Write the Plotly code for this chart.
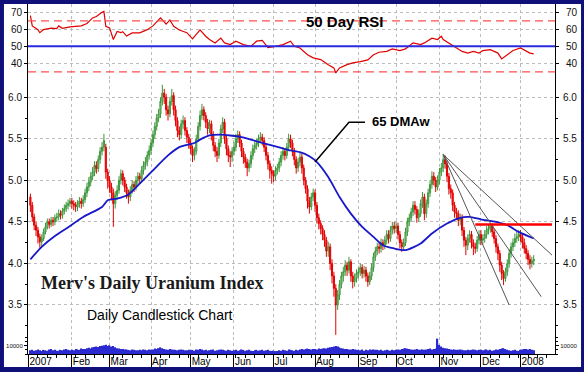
import plotly.graph_objects as go
import pandas as pd

# ------------------------------------------------------------------ data
open_ = [
    4.80, 4.70, 4.56, 4.46, 4.40, 4.32, 4.26, 4.30, 4.38, 4.44, 4.50, 4.47, 4.52, 4.50, 4.55, 4.56, 4.60, 4.58, 4.63, 4.66, 4.70, 4.72,
    4.75, 4.72, 4.70, 4.68, 4.72, 4.75, 4.72, 4.77, 4.85, 4.92, 4.98, 5.05, 5.10, 5.18, 5.14, 5.25, 5.35, 5.40, 5.40, 5.10,
    5.00, 4.92, 4.85, 4.72, 4.82, 4.88, 5.00, 5.08, 5.00, 4.92, 4.85, 4.80, 4.88, 4.95, 4.92, 5.00, 5.05, 5.02, 5.12, 5.18, 5.22, 5.30,
    5.36, 5.45, 5.55, 5.65, 5.75, 5.80, 5.95, 6.05, 6.00, 5.85, 5.80, 5.95, 6.02, 5.85, 5.72, 5.60, 5.55, 5.68, 5.72, 5.60, 5.52,
    5.45, 5.38, 5.30, 5.35, 5.50, 5.65, 5.78, 5.85, 5.78, 5.70, 5.62, 5.68, 5.55, 5.42, 5.35, 5.30, 5.45, 5.62, 5.70, 5.50, 5.38, 5.30, 5.28,
    5.35, 5.40, 5.50, 5.55, 5.45, 5.35, 5.28, 5.22, 5.15, 5.20, 5.30, 5.38, 5.42, 5.45, 5.50, 5.52, 5.48, 5.40, 5.30, 5.20, 5.12,
    5.08, 5.05, 5.12, 5.15, 5.22, 5.30, 5.35, 5.30, 5.40, 5.50, 5.45, 5.35, 5.25, 5.15, 5.22, 5.28, 5.15, 5.00, 4.90, 4.75, 4.68, 4.80,
    4.85, 4.70, 4.55, 4.48, 4.42, 4.35, 4.28, 4.15, 4.20, 4.00, 3.85, 3.70, 3.50, 3.62, 3.75, 3.85, 3.90, 3.98, 3.92, 4.02, 3.85, 3.78, 3.82,
    3.88, 3.90, 3.95, 3.88, 3.92, 3.85, 3.78, 3.85, 3.95, 4.08, 4.15, 4.20, 4.18, 4.25, 4.22, 4.28, 4.35, 4.30, 4.40, 4.45,
    4.42, 4.45, 4.35, 4.25, 4.20, 4.25, 4.38, 4.50, 4.55, 4.62, 4.70, 4.65, 4.55, 4.60, 4.72, 4.80, 4.60, 4.72, 4.85, 4.95, 5.05, 5.00, 4.92,
    5.00, 5.10, 5.15, 5.25, 5.20, 5.05, 4.90, 4.85, 4.70, 4.62, 4.60, 4.52, 4.55, 4.40, 4.28, 4.22, 4.30, 4.35, 4.25, 4.20, 4.18, 4.28,
    4.35, 4.28, 4.30, 4.35, 4.40, 4.42, 4.45, 4.38, 4.30, 4.20, 4.12, 3.98, 3.88, 3.82, 3.90, 4.00, 4.12, 4.20, 4.25, 4.30, 4.32,
    4.35, 4.32, 4.25, 4.18, 4.12, 4.05, 4.00, 4.03,
]
high = [
    4.84, 4.74, 4.60, 4.50, 4.44, 4.36, 4.35, 4.42, 4.49, 4.54, 4.54, 4.56, 4.56, 4.59, 4.61, 4.65, 4.64, 4.67, 4.71, 4.74, 4.77, 4.79,
    4.79, 4.76, 4.74, 4.76, 4.80, 4.79, 4.82, 4.90, 4.97, 5.04, 5.10, 5.16, 5.23, 5.23, 5.30, 5.40, 5.46, 5.56, 5.44, 5.14,
    5.05, 4.97, 4.90, 4.87, 4.94, 5.05, 5.13, 5.12, 5.04, 4.96, 4.89, 4.93, 5.00, 4.99, 5.05, 5.10, 5.09, 5.17, 5.23, 5.28, 5.35, 5.42,
    5.50, 5.60, 5.70, 5.80, 5.86, 6.00, 6.15, 6.10, 6.04, 5.90, 6.00, 6.10, 6.06, 5.90, 5.76, 5.65, 5.73, 5.78, 5.76, 5.64, 5.56,
    5.50, 5.42, 5.40, 5.55, 5.70, 5.84, 5.92, 5.89, 5.82, 5.74, 5.73, 5.72, 5.59, 5.46, 5.40, 5.50, 5.67, 5.76, 5.74, 5.54, 5.42, 5.35, 5.40,
    5.46, 5.56, 5.60, 5.59, 5.49, 5.39, 5.32, 5.26, 5.25, 5.35, 5.43, 5.47, 5.50, 5.55, 5.58, 5.56, 5.52, 5.44, 5.34, 5.24, 5.17,
    5.12, 5.17, 5.20, 5.27, 5.35, 5.40, 5.39, 5.45, 5.56, 5.55, 5.49, 5.39, 5.29, 5.27, 5.33, 5.32, 5.19, 5.04, 4.94, 4.80, 4.85, 4.90,
    4.89, 4.74, 4.60, 4.52, 4.46, 4.40, 4.32, 4.26, 4.24, 4.05, 3.90, 3.75, 3.68, 3.80, 3.90, 3.96, 4.04, 4.02, 4.08, 4.05, 3.90, 3.88, 3.93,
    3.95, 4.00, 3.99, 3.97, 3.96, 3.89, 3.90, 4.00, 4.13, 4.20, 4.25, 4.25, 4.30, 4.29, 4.33, 4.40, 4.40, 4.45, 4.50, 4.50,
    4.50, 4.49, 4.39, 4.29, 4.30, 4.43, 4.55, 4.60, 4.67, 4.75, 4.75, 4.69, 4.65, 4.77, 4.86, 4.84, 4.77, 4.90, 5.00, 5.11, 5.10, 5.04, 5.06,
    5.15, 5.21, 5.32, 5.30, 5.24, 5.09, 4.95, 4.89, 4.74, 4.67, 4.64, 4.60, 4.59, 4.44, 4.32, 4.35, 4.40, 4.39, 4.29, 4.25, 4.33, 4.40,
    4.40, 4.35, 4.40, 4.45, 4.47, 4.48, 4.48, 4.42, 4.34, 4.24, 4.16, 4.02, 3.92, 3.95, 4.05, 4.17, 4.25, 4.30, 4.36, 4.38, 4.40,
    4.40, 4.36, 4.30, 4.22, 4.16, 4.10, 4.08, 4.10,
]
low = [
    4.62, 4.50, 4.40, 4.33, 4.24, 4.19, 4.21, 4.27, 4.35, 4.41, 4.42, 4.44, 4.45, 4.46, 4.50, 4.52, 4.53, 4.54, 4.59, 4.62, 4.65, 4.68,
    4.66, 4.64, 4.62, 4.63, 4.67, 4.66, 4.68, 4.73, 4.80, 4.87, 4.93, 5.00, 5.05, 5.08, 5.10, 5.20, 5.30, 5.35, 5.02, 4.90,
    4.85, 4.76, 4.44, 4.66, 4.77, 4.84, 4.95, 4.94, 4.86, 4.78, 4.72, 4.75, 4.84, 4.86, 4.88, 4.95, 4.96, 4.98, 5.07, 5.13, 5.17, 5.25,
    5.31, 5.40, 5.50, 5.60, 5.70, 5.75, 5.90, 5.92, 5.78, 5.72, 5.76, 5.90, 5.78, 5.65, 5.52, 5.48, 5.50, 5.62, 5.54, 5.45, 5.38,
    5.32, 5.22, 5.24, 5.31, 5.46, 5.60, 5.73, 5.72, 5.63, 5.55, 5.57, 5.48, 5.35, 5.28, 5.22, 5.26, 5.40, 5.57, 5.44, 5.30, 5.22, 5.16, 5.22,
    5.30, 5.35, 5.45, 5.40, 5.28, 5.20, 5.15, 5.05, 5.10, 5.15, 5.25, 5.33, 5.37, 5.40, 5.45, 5.42, 5.34, 5.24, 5.13, 5.02, 4.96,
    4.98, 5.00, 5.07, 5.10, 5.17, 5.25, 5.24, 5.26, 5.35, 5.39, 5.29, 5.18, 5.08, 5.10, 5.17, 5.08, 4.94, 4.84, 4.66, 4.60, 4.64, 4.75,
    4.62, 4.48, 4.41, 4.35, 4.28, 4.20, 4.08, 4.08, 3.92, 3.76, 3.60, 3.14, 3.44, 3.56, 3.70, 3.78, 3.85, 3.85, 3.88, 3.78, 3.70, 3.72, 3.77,
    3.82, 3.85, 3.82, 3.83, 3.78, 3.72, 3.74, 3.80, 3.90, 4.03, 4.10, 4.12, 4.13, 4.16, 4.17, 4.23, 4.24, 4.26, 4.35, 4.36,
    4.37, 4.29, 4.18, 4.14, 4.16, 4.21, 4.33, 4.45, 4.50, 4.57, 4.59, 4.49, 4.50, 4.56, 4.67, 4.52, 4.55, 4.67, 4.80, 4.90, 4.94, 4.86, 4.88,
    4.95, 5.05, 5.10, 5.14, 4.98, 4.83, 4.78, 4.63, 4.55, 4.53, 4.45, 4.46, 4.33, 4.20, 4.10, 4.16, 4.25, 4.18, 4.10, 4.12, 4.14, 4.23,
    4.22, 4.23, 4.25, 4.30, 4.35, 4.37, 4.32, 4.24, 4.13, 4.04, 3.90, 3.80, 3.74, 3.78, 3.85, 3.95, 4.07, 4.15, 4.20, 4.25, 4.27,
    4.26, 4.18, 4.12, 4.05, 3.98, 3.93, 3.95, 3.98,
]
close = [
    4.70, 4.56, 4.46, 4.40, 4.32, 4.26, 4.30, 4.38, 4.44, 4.50, 4.47, 4.52, 4.50, 4.55, 4.56, 4.60, 4.58, 4.63, 4.66, 4.70, 4.72, 4.75,
    4.72, 4.70, 4.68, 4.72, 4.75, 4.72, 4.77, 4.85, 4.92, 4.98, 5.05, 5.10, 5.18, 5.14, 5.25, 5.35, 5.40, 5.48, 5.10, 5.00,
    4.92, 4.85, 4.72, 4.82, 4.88, 5.00, 5.08, 5.00, 4.92, 4.85, 4.80, 4.88, 4.95, 4.92, 5.00, 5.05, 5.02, 5.12, 5.18, 5.22, 5.30, 5.36,
    5.45, 5.55, 5.65, 5.75, 5.80, 5.95, 6.05, 6.00, 5.85, 5.80, 5.95, 6.02, 5.85, 5.72, 5.60, 5.55, 5.68, 5.72, 5.60, 5.52, 5.45,
    5.38, 5.30, 5.35, 5.50, 5.65, 5.78, 5.85, 5.78, 5.70, 5.62, 5.68, 5.55, 5.42, 5.35, 5.30, 5.45, 5.62, 5.70, 5.50, 5.38, 5.30, 5.28, 5.35,
    5.40, 5.50, 5.55, 5.45, 5.35, 5.28, 5.22, 5.15, 5.20, 5.30, 5.38, 5.42, 5.45, 5.50, 5.52, 5.48, 5.40, 5.30, 5.20, 5.12, 5.08,
    5.05, 5.12, 5.15, 5.22, 5.30, 5.35, 5.30, 5.40, 5.50, 5.45, 5.35, 5.25, 5.15, 5.22, 5.28, 5.15, 5.00, 4.90, 4.75, 4.68, 4.80, 4.85,
    4.70, 4.55, 4.48, 4.42, 4.35, 4.28, 4.15, 4.20, 4.00, 3.85, 3.70, 3.50, 3.62, 3.75, 3.85, 3.90, 3.98, 3.92, 4.02, 3.85, 3.78, 3.82, 3.88,
    3.90, 3.95, 3.88, 3.92, 3.85, 3.78, 3.85, 3.95, 4.08, 4.15, 4.20, 4.18, 4.25, 4.22, 4.28, 4.35, 4.30, 4.40, 4.45, 4.42,
    4.45, 4.35, 4.25, 4.20, 4.25, 4.38, 4.50, 4.55, 4.62, 4.70, 4.65, 4.55, 4.60, 4.72, 4.80, 4.60, 4.72, 4.85, 4.95, 5.05, 5.00, 4.92, 5.00,
    5.10, 5.15, 5.25, 5.20, 5.05, 4.90, 4.85, 4.70, 4.62, 4.60, 4.52, 4.55, 4.40, 4.28, 4.22, 4.30, 4.35, 4.25, 4.20, 4.18, 4.28, 4.35,
    4.28, 4.30, 4.35, 4.40, 4.42, 4.45, 4.38, 4.30, 4.20, 4.12, 3.98, 3.88, 3.82, 3.90, 4.00, 4.12, 4.20, 4.25, 4.30, 4.32, 4.35,
    4.32, 4.25, 4.18, 4.12, 4.05, 4.00, 4.03, 4.05,
]
volume = [
    4500, 5000, 4000, 4500, 5500, 4500, 3500, 5000, 4500, 4000, 5500, 6000, 4500, 5000, 4000, 4000, 5000, 4500, 5500, 6000, 5000, 4500,
    5000, 4500, 6000, 5500, 5000, 6500, 6000, 6000, 7000, 7500, 6500, 8000, 8500, 9000, 8500, 9500, 10000, 10500, 11000, 9500,
    10500, 9000, 9500, 8000, 7000, 6500, 6000, 6000, 5500, 5500, 5000, 4500, 5500, 5000, 4500, 4500, 5000, 4500, 5500, 5000, 4500, 5500,
    5000, 5500, 6500, 6000, 7000, 8000, 7000, 6000, 5500, 5000, 6000, 5500, 5000, 5000, 4500, 5000, 5500, 5000, 4500, 4500, 5000,
    4500, 5000, 4000, 5500, 5000, 6000, 5500, 4500, 5000, 4000, 4500, 5000, 5500, 4000, 4500, 5000, 5500, 5000, 4500, 4000, 5000, 4500, 4000,
    4500, 5000, 4000, 4500, 5500, 5000, 4000, 4500, 5000, 4000, 3500, 4500, 5000, 4000, 4500, 5000, 4000, 4500, 5000, 4000, 3500,
    4000, 3500, 3500, 4500, 4000, 5000, 4500, 4000, 5500, 5000, 4500, 4000, 5000, 4500, 5500, 6000, 5500, 6000, 6500, 6000, 5500, 6000,
    6000, 5500, 6500, 6000, 6500, 7000, 6500, 7500, 8000, 8500, 9000, 9500, 9000, 8000, 7000, 6500, 6000, 6000, 5500, 5500, 6000, 5500, 5000,
    5000, 4500, 5500, 4000, 5000, 4500, 5500, 5000, 5500, 5000, 5000, 4500, 5000, 4000, 4500, 5000, 4500, 4000, 5000, 4500,
    5000, 5500, 5000, 6000, 6500, 7000, 6500, 6000, 5500, 5000, 5500, 6000, 5000, 5000, 5500, 5000, 5500, 6000, 6500, 5500, 6000, 6500, 18500,
    11000, 9000, 7500, 7000, 6500, 6000, 5500, 5000, 5500, 5000, 5000, 5500, 5000, 4500, 4500, 5000, 4500, 5000, 5500, 5000, 4500, 5000,
    5000, 4500, 5000, 5500, 4500, 5000, 4000, 4500, 5500, 5000, 6000, 6500, 7000, 6000, 5000, 4500, 4000, 4500, 5000, 4000, 3500,
    5000, 5500, 6000, 6000, 5500, 6000, 5000, 4500,
]
n_days = min(len(open_), len(high), len(low), len(close), len(volume))
dates = pd.bdate_range("2007-01-02", periods=n_days)

ma_dates = ["2007-01-02", "2007-01-10", "2007-01-19", "2007-01-29", "2007-02-09", "2007-02-23", "2007-02-28",
            "2007-03-07", "2007-03-15", "2007-03-23", "2007-04-03", "2007-04-13", "2007-04-23", "2007-05-03",
            "2007-05-08", "2007-05-15", "2007-05-23", "2007-05-30", "2007-06-07", "2007-06-14", "2007-06-22",
            "2007-06-29", "2007-07-06", "2007-07-13", "2007-07-20", "2007-07-27", "2007-08-02", "2007-08-10",
            "2007-08-20", "2007-08-28", "2007-09-05", "2007-09-13", "2007-09-20", "2007-09-28", "2007-10-08",
            "2007-10-18", "2007-10-26", "2007-11-07", "2007-11-16", "2007-11-23", "2007-12-03", "2007-12-13",
            "2007-12-21", "2007-12-31", "2008-01-10"]
ma_values = [4.05, 4.20, 4.33, 4.42, 4.56, 4.68, 4.76, 4.78, 4.83, 4.96, 5.12, 5.30, 5.40, 5.45, 5.49, 5.54,
             5.55, 5.54, 5.52, 5.49, 5.45, 5.42, 5.39, 5.36, 5.34, 5.29, 5.22, 5.04, 4.80, 4.60, 4.44, 4.32,
             4.22, 4.18, 4.16, 4.24, 4.36, 4.48, 4.55, 4.56, 4.53, 4.50, 4.46, 4.38, 4.30]

rsi_dates = ["2007-01-02", "2007-01-03", "2007-01-08", "2007-01-09", "2007-01-11", "2007-01-17", "2007-01-22",
             "2007-01-23", "2007-01-25", "2007-01-31", "2007-02-08", "2007-02-13", "2007-02-16", "2007-02-20",
             "2007-02-23", "2007-02-26", "2007-02-27", "2007-03-01", "2007-03-05", "2007-03-07", "2007-03-09",
             "2007-03-12", "2007-03-14", "2007-03-19", "2007-03-23", "2007-03-29", "2007-04-03", "2007-04-09",
             "2007-04-10", "2007-04-12", "2007-04-16", "2007-04-18", "2007-04-23", "2007-04-27", "2007-05-02",
             "2007-05-07", "2007-05-08", "2007-05-11", "2007-05-15", "2007-05-18", "2007-05-23", "2007-05-25",
             "2007-05-30", "2007-06-04", "2007-06-08", "2007-06-14", "2007-06-19", "2007-06-22", "2007-06-27",
             "2007-07-03", "2007-07-09", "2007-07-13", "2007-07-17", "2007-07-20", "2007-07-26", "2007-07-31",
             "2007-08-06", "2007-08-10", "2007-08-15", "2007-08-16", "2007-08-20", "2007-08-24", "2007-08-29",
             "2007-09-04", "2007-09-10", "2007-09-13", "2007-09-18", "2007-09-24", "2007-09-27", "2007-10-03",
             "2007-10-08", "2007-10-12", "2007-10-18", "2007-10-22", "2007-10-26", "2007-10-31", "2007-11-02",
             "2007-11-05", "2007-11-09", "2007-11-14", "2007-11-19", "2007-11-22", "2007-11-27", "2007-11-30",
             "2007-12-04", "2007-12-10", "2007-12-14", "2007-12-18", "2007-12-21", "2007-12-26", "2008-01-01",
             "2008-01-04", "2008-01-08", "2008-01-10"]
rsi_values = [68.0, 62.0, 59.8, 58.0, 59.8, 60.7, 60.4, 62.0, 60.6, 61.4, 62.0, 63.4, 66.7, 67.5, 70.0, 70.5,
              61.8, 60.8, 54.0, 58.7, 58.0, 58.6, 56.0, 57.9, 57.9, 59.8, 62.0, 66.7, 65.5, 63.0, 65.5, 61.8,
              59.6, 58.0, 54.4, 58.5, 59.6, 55.9, 54.0, 52.0, 54.8, 52.0, 51.0, 53.0, 51.0, 50.0, 53.0, 53.5,
              49.2, 50.0, 51.0, 53.0, 50.0, 49.0, 45.0, 43.2, 42.2, 39.2, 37.3, 34.3, 37.3, 39.2, 40.2, 41.0,
              42.0, 45.0, 46.5, 47.0, 48.5, 47.5, 48.5, 52.0, 51.0, 52.0, 54.8, 54.0, 55.9, 54.0, 51.0, 49.0,
              47.0, 46.0, 47.0, 46.0, 47.5, 48.0, 46.0, 42.6, 45.0, 47.5, 49.0, 47.0, 46.0, 45.5]

rsi_mid_level = 50
rsi_band_levels = [65, 35]
rsi_ticks = [40, 50, 60, 70]
price_ticks = [3.5, 4.0, 4.5, 5.0, 5.5, 6.0]
volume_ticks = [10000]

month_ticks = ["2007-01-01", "2007-02-01", "2007-03-01", "2007-04-02", "2007-05-01", "2007-06-01", "2007-07-02",
               "2007-08-01", "2007-09-03", "2007-10-01", "2007-11-01", "2007-12-03", "2008-01-01"]
month_labels = ["2007", "Feb", "Mar", "Apr", "May", "Jun", "Jul", "Aug", "Sep", "Oct", "Nov", "Dec", "2008"]

fan_pivot_date = "2007-11-05"
fan_pivot_value = 5.31
fan_end_dates = ["2007-12-24", "2008-01-16", "2008-01-23 17:00"]
fan_end_values = [3.50, 3.60, 4.10]

resistance_dates = ["2007-11-28", "2008-01-23 17:00"]
resistance_level = 4.47

callout_dates = ["2007-08-01", "2007-08-27", "2007-09-06 12:00"]
callout_values = [5.22, 5.70, 5.70]

# ------------------------------------------------------------------ style
FONT = "Arial, Liberation Sans, sans-serif"
SERIF = "Times New Roman, Liberation Serif, serif"
NAVY = "#10107a"
GRID = "#bcbcbc"

fig = go.Figure()

fig.add_trace(go.Bar(x=dates, y=volume[:n_days], yaxis="y3",
                     marker=dict(color="#2a2ad0", line=dict(width=0)), hoverinfo="skip"))

fig.add_trace(go.Candlestick(
    x=dates, open=open_[:n_days], high=high[:n_days], low=low[:n_days], close=close[:n_days],
    yaxis="y", whiskerwidth=0, hoverinfo="skip",
    increasing=dict(line=dict(color="#3c963c", width=1), fillcolor="#9ccf9c"),
    decreasing=dict(line=dict(color="#e00000", width=1), fillcolor="#ff1010")))

fig.add_trace(go.Scatter(x=ma_dates, y=ma_values, mode="lines", yaxis="y",
                         line=dict(color="#1818c8", width=1.8, shape="spline", smoothing=0.6),
                         hoverinfo="skip"))

for d_end, v_end in zip(fan_end_dates, fan_end_values):
    fig.add_trace(go.Scatter(x=[fan_pivot_date, d_end], y=[fan_pivot_value, v_end], mode="lines",
                             yaxis="y", line=dict(color="#555555", width=1), hoverinfo="skip"))

fig.add_trace(go.Scatter(x=resistance_dates, y=[resistance_level] * len(resistance_dates), mode="lines",
                         yaxis="y", line=dict(color="#ff0000", width=2.5), hoverinfo="skip"))

fig.add_trace(go.Scatter(x=callout_dates, y=callout_values, mode="lines", yaxis="y",
                         line=dict(color="black", width=1.5), hoverinfo="skip"))

fig.add_trace(go.Scatter(x=rsi_dates, y=rsi_values, mode="lines", yaxis="y2",
                         line=dict(color="#e00000", width=1.2), hoverinfo="skip"))

# invisible carriers for the right-hand duplicate axes
fig.add_trace(go.Scatter(x=dates, y=close[:n_days], mode="none", yaxis="y4", hoverinfo="skip"))
fig.add_trace(go.Scatter(x=rsi_dates, y=rsi_values, mode="none", yaxis="y5", hoverinfo="skip"))
fig.add_trace(go.Scatter(x=dates, y=volume[:n_days], mode="none", yaxis="y6", hoverinfo="skip"))

# panel geometry (paper fractions)
RSI_DOM = [0.7829, 1.0]
PRICE_DOM = [0.0486, 0.7829]
VOL_DOM = [0.0, 0.0486]
PRICE_RANGE = [3.115, 6.208]
RSI_RANGE = [30.18, 74.88]
VOL_RANGE = [0, 20500]

tickfont = dict(family=FONT, size=10, color="#111111")
base_y = dict(showline=True, linecolor="black", linewidth=1, ticks="outside", ticklen=3,
              tickcolor="black", zeroline=False, fixedrange=True, tickfont=tickfont)

fig.update_layout(
    width=584, height=372, autosize=False,
    margin=dict(l=28, r=29, t=4, b=18, pad=0),
    paper_bgcolor=NAVY, plot_bgcolor="white",
    showlegend=False, hovermode=False, bargap=0.35, boxgap=0.15,
    xaxis=dict(
        type="date", anchor="y3", domain=[0, 1],
        range=["2006-12-29 17:30", "2008-01-25 07:00"],
        rangebreaks=[dict(bounds=["sat", "mon"])],
        tickmode="array", tickvals=month_ticks, ticktext=month_labels,
        ticks="outside", ticklen=12, tickcolor="black", tickwidth=1,
        ticklabelposition="outside right", ticklabelstandoff=-2,
        tickfont=dict(family=FONT, size=10, color="black"),
        showline=True, linecolor="black", linewidth=1,
        showgrid=True, gridcolor=GRID, griddash="dot", gridwidth=1,
        minor=dict(dtick=7 * 86400000, tick0="2007-01-01", ticks="outside", ticklen=3,
                   tickcolor="black", showgrid=False),
        rangeslider=dict(visible=False), zeroline=False, fixedrange=True),
    yaxis=dict(domain=PRICE_DOM, range=PRICE_RANGE, anchor="x", side="left",
               tickvals=price_ticks, tickformat=".1f",
               showgrid=True, gridcolor=GRID, griddash="dot",
               minor=dict(dtick=0.25, tick0=0, ticks="outside", ticklen=2, tickcolor="black", showgrid=False),
               **base_y),
    yaxis2=dict(domain=RSI_DOM, range=RSI_RANGE, anchor="x", side="left",
                tickvals=rsi_ticks, showgrid=True, gridcolor=GRID, griddash="dot", **base_y),
    yaxis3=dict(domain=VOL_DOM, range=VOL_RANGE, anchor="x", side="left",
                tickvals=volume_ticks, ticktext=[str(v) for v in volume_ticks], showgrid=False,
                minor=dict(dtick=5000, ticks="outside", ticklen=2, tickcolor="black"),
                **{**base_y, "tickfont": dict(family=FONT, size=6, color="#111111")}),
    yaxis4=dict(overlaying="y", range=PRICE_RANGE, anchor="x", side="right",
                tickvals=price_ticks, tickformat=".1f", showgrid=False, ticklabelstandoff=2,
                minor=dict(dtick=0.25, tick0=0, ticks="outside", ticklen=2, tickcolor="black", showgrid=False),
                **base_y),
    yaxis5=dict(overlaying="y2", range=RSI_RANGE, anchor="x", side="right",
                tickvals=rsi_ticks, showgrid=False, ticklabelstandoff=5, **base_y),
    yaxis6=dict(overlaying="y3", range=VOL_RANGE, anchor="x", side="right",
                tickvals=volume_ticks, ticktext=[str(v) for v in volume_ticks], showgrid=False,
                minor=dict(dtick=5000, ticks="outside", ticklen=2, tickcolor="black"),
                **{**base_y, "tickfont": dict(family=FONT, size=6, color="#111111")}),
    shapes=[
        dict(type="rect", xref="paper", yref="paper", x0=-0.0456, x1=1.0494, y0=-0.0372, y1=1.0,
             fillcolor="white", line=dict(width=0), layer="below"),
        dict(type="line", xref="paper", yref="y2", x0=0, x1=1, y0=rsi_mid_level, y1=rsi_mid_level,
             line=dict(color="#2a2ae0", width=2)),
    ] + [
        dict(type="line", xref="paper", yref="y2", x0=0, x1=1, y0=lv, y1=lv,
             line=dict(color="#ff5050", width=1.2, dash="8px,5px"))
        for lv in rsi_band_levels
    ],
    annotations=[
        dict(text="<b>50 Day RSI</b>", xref="paper", yref="paper", x=0.6015, y=0.9486,
             xanchor="center", yanchor="middle", showarrow=False,
             font=dict(family=FONT, size=15, color="black")),
        dict(text="<b>65 DMAw</b>", xref="paper", yref="paper", x=0.649, y=0.6657,
             xanchor="left", yanchor="middle", showarrow=False,
             font=dict(family=FONT, size=13, color="black")),
        dict(text="<b>Merv's Daily Uranium Index</b>", xref="paper", yref="paper", x=0.2362, y=0.2029,
             xanchor="center", yanchor="middle", showarrow=False,
             font=dict(family=SERIF, size=18, color="#1a1a1a")),
        dict(text="Daily Candlestick Chart", xref="paper", yref="paper", x=0.2505, y=0.1114,
             xanchor="center", yanchor="middle", showarrow=False,
             font=dict(family=FONT, size=14, color="black")),
    ],
)

fig.write_html("out.html", config={"displayModeBar": False},
               post_script="document.body.style.margin='0';document.body.style.padding='0';")
